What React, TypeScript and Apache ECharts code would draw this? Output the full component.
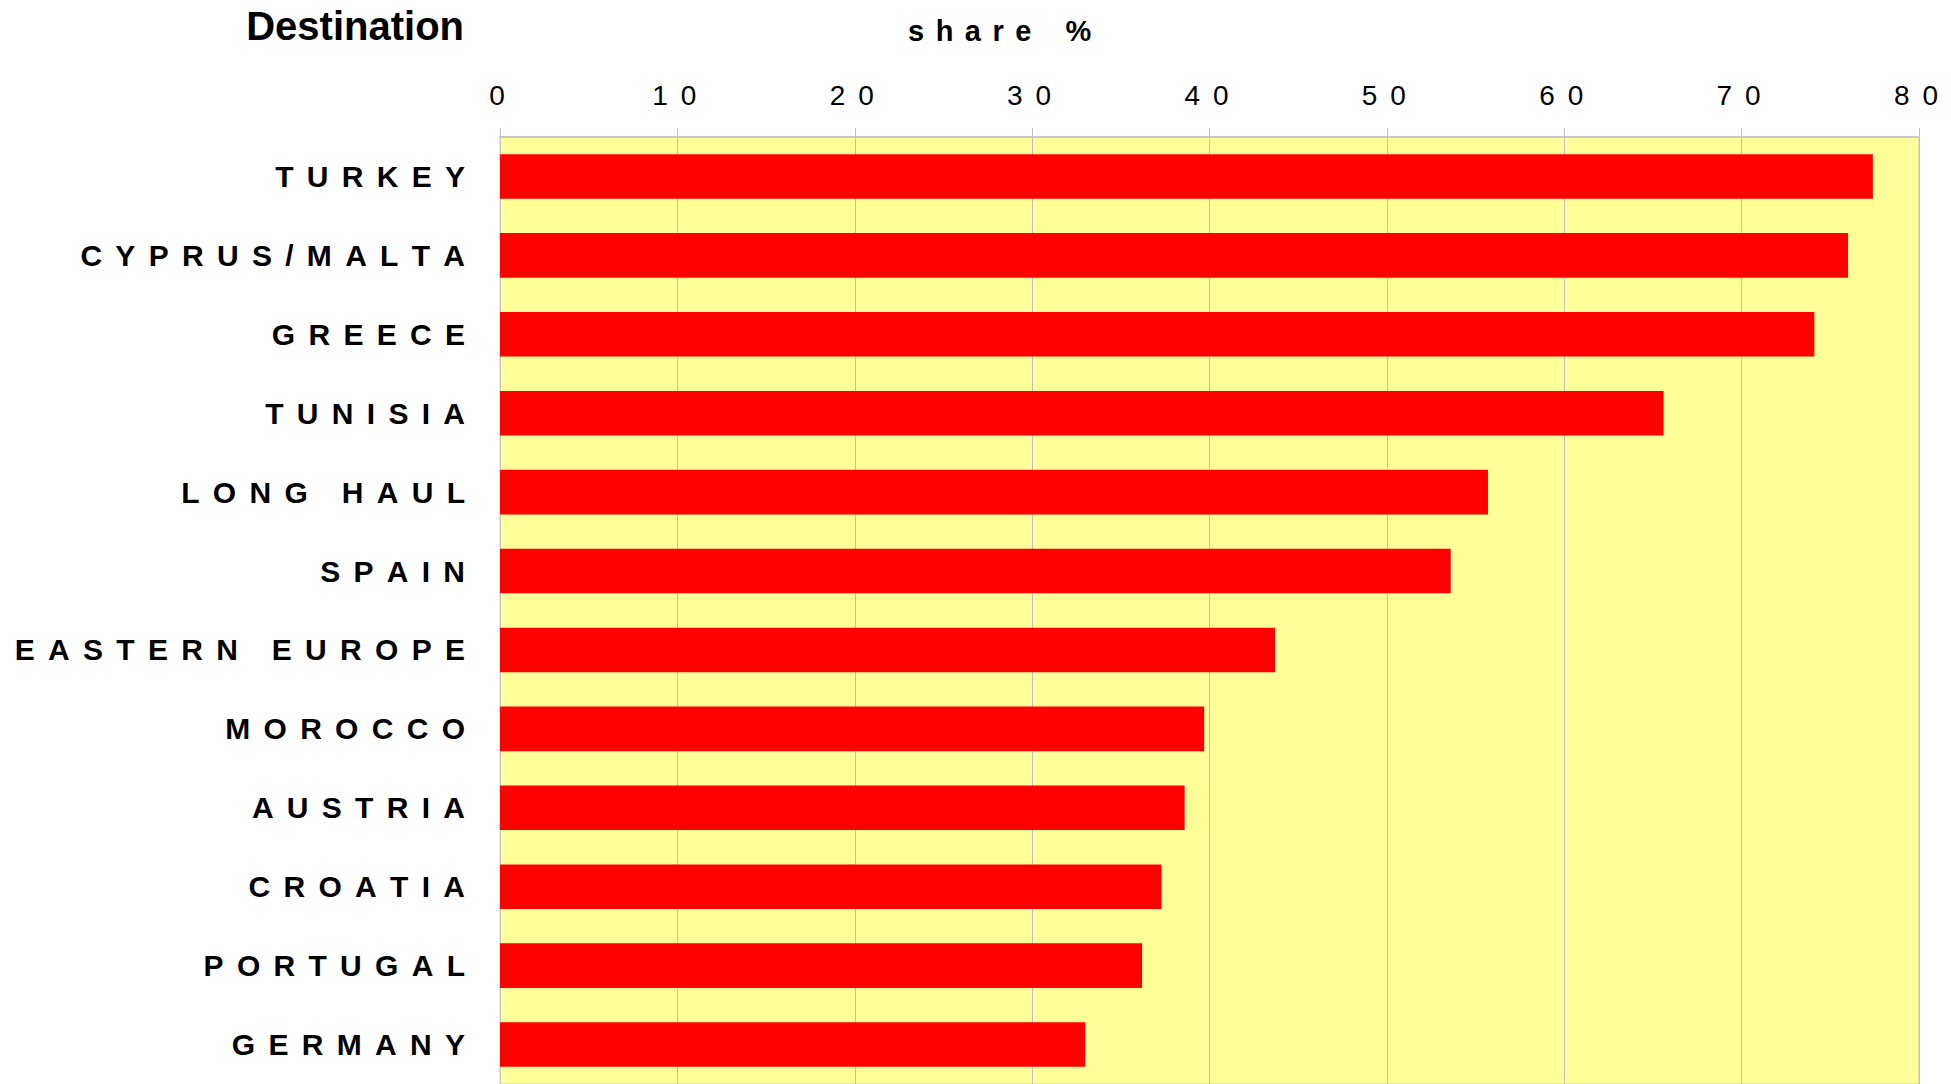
import React, { useEffect, useRef } from "react";
import * as echarts from "echarts";

const categories: string[] = [
  "TURKEY",
  "CYPRUS/MALTA",
  "GREECE",
  "TUNISIA",
  "LONG HAUL",
  "SPAIN",
  "EASTERN EUROPE",
  "MOROCCO",
  "AUSTRIA",
  "CROATIA",
  "PORTUGAL",
  "GERMANY",
];
const shares: number[] = [77.4, 76.0, 74.1, 65.6, 55.7, 53.6, 43.7, 39.7, 38.6, 37.3, 36.2, 33.0];
const axisMin = 0;
const axisMax = 80;
const axisStep = 10;
const titleText = "Destination";
const axisTitle = "share %";

const NB = "\u00A0";
// spread letters apart with fixed-width gap tokens (rich text)
const spaced = (s: string) =>
  s
    .split(" ")
    .map((w) => w.split("").join(`{g|${NB}}`))
    .join(`{w|${NB}}`);

export default function App() {
  const ref = useRef<HTMLDivElement>(null);
  useEffect(() => {
    if (!ref.current) return;
    const chart = echarts.init(ref.current, null, { renderer: "svg" });
    const font = "'Liberation Sans', Arial, sans-serif";
    chart.setOption({
      animation: false,
      backgroundColor: "#ffffff",
      grid: {
        left: 500,
        right: 32,
        top: 137,
        height: 954,
        show: true,
        backgroundColor: "#FFFF99",
        borderColor: "#c8c8c8",
        borderWidth: 1,
        containLabel: false,
      },
      xAxis: {
        type: "value",
        position: "top",
        min: axisMin,
        max: axisMax,
        interval: axisStep,
        axisLine: { show: true, lineStyle: { color: "#c8c8c8", width: 2 } },
        axisTick: { show: true, length: 9, lineStyle: { color: "#c0c0c0", width: 1 } },
        splitLine: { show: true, lineStyle: { color: "#c0c0c0", width: 1 } },
        axisLabel: {
          show: true,
          margin: 28,
          fontFamily: font,
          fontSize: 28,
          color: "#000",
          padding: [0, 6, 0, 0],
          formatter: (v: number) => String(v).split("").join(`{g|${NB}}`),
          rich: { g: { width: 13 } },
        },
      },
      yAxis: {
        type: "category",
        inverse: true,
        data: categories,
        axisLine: { show: true, lineStyle: { color: "#c8c8c8", width: 1 } },
        axisTick: { show: false },
        splitLine: { show: false },
        axisLabel: {
          margin: 35,
          fontFamily: font,
          fontWeight: "bold",
          fontSize: 30,
          color: "#000",
          formatter: (v: string) => spaced(v),
          rich: { g: { width: 13.3 }, w: { width: 34 } },
        },
      },
      series: [
        {
          type: "bar",
          data: shares,
          barCategoryGap: "43.5%",
          itemStyle: { color: "#FF0000" },
        },
      ],
      graphic: [
        {
          type: "text",
          right: 1951 - 464,
          top: 6,
          style: {
            text: titleText,
            font: `bold 40px ${font}`,
            fill: "#000",
          },
        },
        {
          type: "text",
          x: 908,
          y: 31,
          style: {
            text: axisTitle
              .split(" ")
              .map((w) => w.split("").join(`{g|${NB}}`))
              .join(`{w|${NB}}`),
            font: `bold 29px ${font}`,
            fill: "#000",
            align: "left",
            verticalAlign: "middle",
            rich: { g: { width: 11.5 }, w: { width: 34 } },
          },
        },
      ],
    });
    return () => chart.dispose();
  }, []);
  return (
    <div
      ref={ref}
      style={{ position: "fixed", left: 0, top: 0, width: 1951, height: 1084 }}
    />
  );
}
